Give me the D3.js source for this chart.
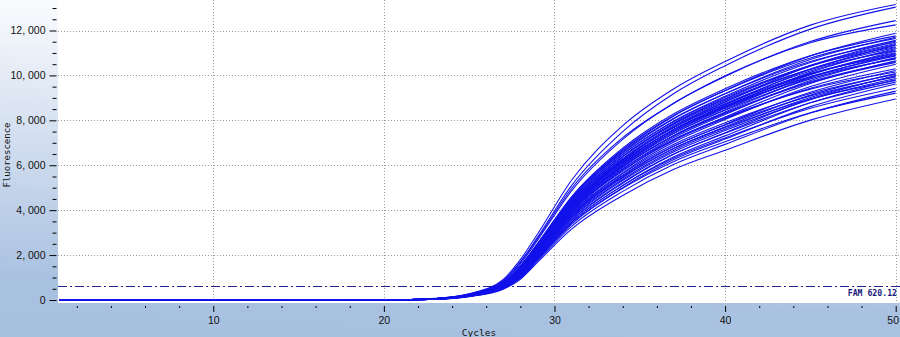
<!DOCTYPE html>
<html><head><meta charset="utf-8">
<script src="https://cdn.jsdelivr.net/npm/d3@7"></script>
<style>html,body{margin:0;padding:0;background:#fff;overflow:hidden}</style>
</head><body><svg id="c" width="900" height="337"></svg>
<script>
// ---- data ----
const keyCycles = [1, 18, 21, 23, 25, 27, 28, 29, 31, 34, 37, 40, 45, 50];
const curves = [
  [0,0,13,72,276,921,1800,2928,5334,7764,9409,10620,12240,13160],
  [0,0,13,65,261,861,1690,2786,5096,7498,9193,10432,12062,13040],
  [0,0,12,62,249,821,1610,2658,4862,7153,8770,9952,11507,12440],
  [0,0,12,67,257,858,1690,2726,4965,7228,8759,9984,11454,12250],
  [0,0,12,53,226,737,1440,2431,4529,6653,8197,9326,10870,11880],
  [0,0,12,59,235,776,1520,2512,4596,6762,8291,9408,10878,11760],
  [0,0,12,53,222,725,1410,2395,4460,6552,8073,9185,10706,11700],
  [0,0,12,58,233,769,1510,2488,4553,6699,8213,9320,10776,11650],
  [0,0,12,52,220,717,1400,2367,4406,6474,7976,9075,10577,11560],
  [0,0,12,46,207,668,1290,2255,4225,6221,7718,8813,10426,11520],
  [0,0,11,57,230,758,1490,2452,4486,6601,8093,9184,10619,11480],
  [0,0,11,51,217,708,1380,2338,4353,6395,7880,8965,10449,11420],
  [0,0,11,51,216,706,1380,2329,4338,6373,7852,8933,10413,11380],
  [0,0,11,45,204,658,1270,2222,4162,6129,7605,8683,10272,11350],
  [0,0,11,56,226,744,1460,2409,4408,6486,7952,9024,10434,11280],
  [0,0,11,51,214,697,1360,2301,4285,6294,7756,8823,10285,11240],
  [0,0,11,45,202,650,1250,2193,4107,6048,7504,8568,10136,11200],
  [0,0,11,50,212,691,1350,2280,4246,6238,7687,8745,10193,11140],
  [0,0,11,56,222,733,1440,2371,4339,6383,7826,8880,10268,11100],
  [0,0,11,44,199,643,1240,2170,4063,5983,7424,8476,10027,11080],
  [0,0,11,50,209,683,1330,2253,4197,6166,7597,8643,10074,11010],
  [0,0,11,49,209,681,1330,2247,4185,6149,7576,8619,10047,10980],
  [0,0,11,44,197,635,1220,2142,4012,5908,7330,8369,9901,10940],
  [0,0,11,55,218,719,1410,2328,4260,6268,7685,8720,10083,10900],
  [0,0,11,49,207,674,1310,2225,4144,6087,7500,8533,9946,10870],
  [0,0,11,43,194,626,1200,2115,3960,5832,7236,8262,9774,10800],
  [0,0,11,48,204,667,1300,2203,4101,6026,7424,8447,9845,10760],
  [0,0,11,54,215,708,1390,2292,4194,6170,7565,8584,9925,10730],
  [0,0,11,43,192,618,1190,2085,3905,5751,7136,8147,9638,10650],
  [0,0,11,48,202,658,1280,2174,4048,5947,7328,8337,9717,10620],
  [0,0,11,48,201,656,1280,2165,4033,5925,7300,8305,9681,10580],
  [0,0,11,42,189,609,1170,2056,3850,5670,7035,8033,9503,10500],
  [0,0,10,46,196,639,1250,2108,3927,5768,7107,8086,9425,10300],
  [0,0,10,41,184,593,1140,2001,3748,5519,6847,7818,9249,10220],
  [0,0,10,51,203,670,1310,2168,3967,5836,7156,8120,9389,10150],
  [0,0,10,40,181,585,1130,1974,3696,5443,6754,7711,9122,10080],
  [0,0,10,45,191,623,1220,2058,3831,5628,6935,7889,9196,10050],
  [0,0,10,35,170,540,1020,1869,3522,5200,6500,7450,8950,10000],
  [0,0,10,40,179,578,1110,1950,3653,5378,6673,7619,9014,9960],
  [0,0,10,45,189,616,1200,2033,3785,5561,6852,7795,9086,9930],
  [0,0,10,39,177,572,1100,1930,3616,5324,6606,7543,8923,9860],
  [0,0,10,34,167,530,1010,1833,3456,5101,6377,7308,8780,9810],
  [0,0,10,44,186,606,1180,2002,3728,5477,6748,7677,8949,9780],
  [0,0,10,39,175,563,1080,1899,3557,5238,6499,7421,8779,9700],
  [0,0,10,34,164,519,990,1798,3388,5002,6253,7167,8610,9620],
  [0,0,9,38,170,547,1050,1847,3458,5092,6318,7214,8534,9430],
  [0,0,9,33,158,502,960,1738,3276,4836,6045,6929,8324,9300],
  [0,0,9,37,166,534,1030,1803,3378,4973,6171,7046,8335,9210],
  [0,0,9,31,152,483,920,1673,3153,4654,5818,6668,8010,8950]
];
const yTicks = [0, 2000, 4000, 6000, 8000, 10000, 12000];
const yMinorTicks = [500,1000,1500,2500,3000,3500,4500,5000,5500,6500,7000,7500,8500,9000,9500,10500,11000,11500,12500,13000];
const xTicks = [10, 20, 30, 40, 50];
const xMinorTicks = [2,4,6,8,12,14,16,18,22,24,26,28,32,34,36,38,42,44,46,48];
const threshold = 620.12;
const thresholdLabel = "FAM 620.12";
const xTitle = "Cycles";
const yTitle = "Fluorescence";

// ---- drawing ----
const W = 900, H = 337;
const svg = d3.select("#c");
const defs = svg.append("defs");
const grad = defs.append("linearGradient").attr("id","bg")
  .attr("x1","0.12").attr("y1","0").attr("x2","0").attr("y2","1");
grad.append("stop").attr("offset","0").attr("stop-color","#fbfcfe");
grad.append("stop").attr("offset","0.45").attr("stop-color","#cfdcee");
grad.append("stop").attr("offset","0.82").attr("stop-color","#aac2e1");
grad.append("stop").attr("offset","1").attr("stop-color","#a8c0e0");
svg.append("rect").attr("width",W).attr("height",H).attr("fill","url(#bg)");

const plotL = 58, plotR = 900, plotT = 0, plotB = 303;
const x = d3.scaleLinear().domain([0.9, 50]).range([58, 895.7]);
const y = d3.scaleLinear().domain([0, 12000]).range([300, 30.5]);

defs.append("clipPath").attr("id","clip").append("rect")
  .attr("x",plotL).attr("y",plotT).attr("width",plotR-plotL).attr("height",plotB-plotT);

svg.append("rect").attr("x",plotL).attr("y",plotT).attr("width",plotR-plotL).attr("height",plotB-plotT).attr("fill","#ffffff");

// grid
const grid = svg.append("g").attr("stroke","#9c9c9c").attr("stroke-width",1).attr("stroke-dasharray","1,2");
grid.selectAll("line.h").data(yTicks.filter(d=>d>0)).join("line")
  .attr("x1",plotL).attr("x2",plotR).attr("y1",d=>Math.round(y(d))+0.5).attr("y2",d=>Math.round(y(d))+0.5);
grid.selectAll("line.v").data(xTicks).join("line")
  .attr("y1",plotT).attr("y2",plotB).attr("x1",d=>Math.round(x(d))+0.5).attr("x2",d=>Math.round(x(d))+0.5);

// threshold
svg.append("line").attr("x1",plotL).attr("x2",plotR)
  .attr("y1",Math.round(y(threshold))+0.5).attr("y2",Math.round(y(threshold))+0.5)
  .attr("stroke","#22228e").attr("stroke-width",1).attr("stroke-dasharray","9,3,2,3");
svg.append("text").attr("x",897).attr("y",296).attr("text-anchor","end")
  .attr("font-family","DejaVu Sans Mono").attr("font-weight","bold").attr("font-size",8.2)
  .attr("fill","#1a1a80").text(thresholdLabel);

// curves
const line = d3.line().x((d,i)=>x(keyCycles[i])).y(d=>y(d)).curve(d3.curveMonotoneX);
svg.append("g").attr("clip-path","url(#clip)")
  .selectAll("path").data(curves).join("path")
  .attr("d",line).attr("fill","none").attr("stroke","#1212ea").attr("stroke-width",1.1);

// y axis
const fmt = d => d3.format(",")(d).replace(",", ", ");
const yAx = svg.append("g").attr("transform","translate(56.5,0)")
  .call(d3.axisLeft(y).tickValues(yTicks).tickSize(7).tickPadding(4).tickFormat(fmt));
yAx.select(".domain").remove();
yAx.selectAll("text").attr("font-family","Liberation Sans").attr("font-size",10.5).attr("fill","#111");
const yMin = svg.append("g").attr("transform","translate(56.5,0)")
  .call(d3.axisLeft(y).tickValues(yMinorTicks).tickSize(4).tickFormat(""));
yMin.select(".domain").remove();

// x axis
const xAx = svg.append("g").attr("transform","translate(0,306)")
  .call(d3.axisBottom(x).tickValues(xTicks).tickSize(6).tickPadding(5).tickFormat(d3.format("d")));
xAx.select(".domain").remove();
xAx.selectAll("text").attr("font-family","Liberation Sans").attr("font-size",10.5).attr("fill","#111");
xAx.selectAll(".tick text").filter(d => d === 50).attr("dx", -3);
const xMin = svg.append("g").attr("transform","translate(0,306)")
  .call(d3.axisBottom(x).tickValues(xMinorTicks).tickSize(2).tickFormat(""));
xMin.select(".domain").remove();

// titles
svg.append("text").attr("x",479).attr("y",336).attr("text-anchor","middle")
  .attr("font-family","DejaVu Sans Mono").attr("font-size",9.5).attr("fill","#111").text(xTitle);
svg.append("text").attr("transform","translate(10,155) rotate(-90)").attr("text-anchor","middle")
  .attr("font-family","DejaVu Sans Mono").attr("font-size",9).attr("fill","#111").text(yTitle);
</script></body></html>
